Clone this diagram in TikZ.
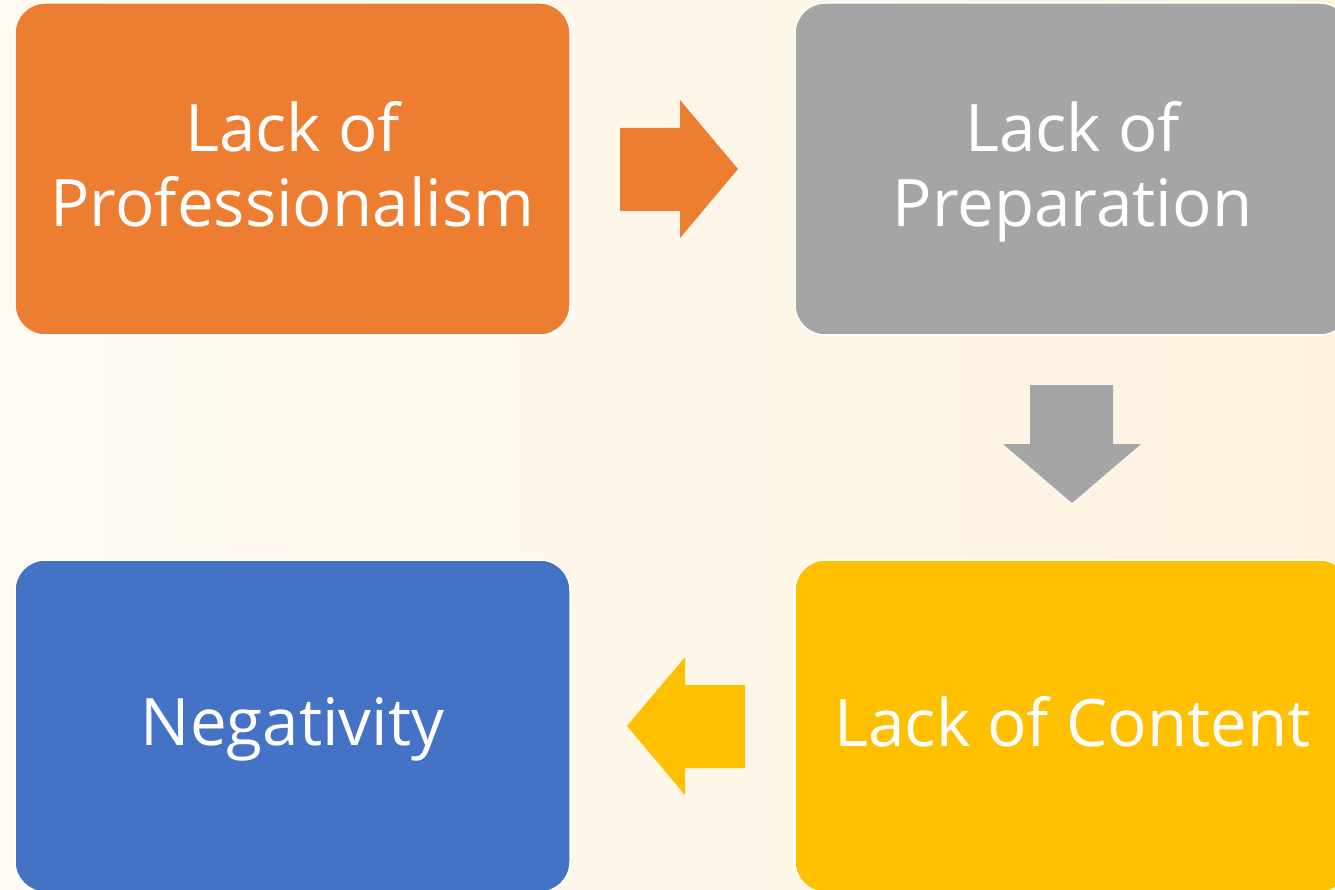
\documentclass[tikz,border=0pt]{standalone}
\usepackage{fontspec}
\setmainfont{Open Sans}
\definecolor{cOrange}{HTML}{ED7D31}
\definecolor{cGray}{HTML}{A5A5A5}
\definecolor{cYellow}{HTML}{FFC000}
\definecolor{cBlue}{HTML}{4472C4}
\definecolor{bgL}{HTML}{FFFBF3}
\definecolor{bgR}{HTML}{FEF2DF}
\newcommand{\cardstrut}{\rule[-15pt]{0pt}{70pt}}
\begin{document}
\begin{tikzpicture}[x=1pt,y=-1pt,
  card/.style={draw=white,line width=1.5pt,rounded corners=30pt,minimum width=555pt,minimum height=332pt,text=white,align=center,font=\fontsize{65.5}{75}\selectfont,inner sep=0pt}]
\shade[left color=bgL,right color=bgR] (0,0) rectangle (1335,890);
\useasboundingbox (0,0) rectangle (1335,890);
\node[card,fill=cOrange] (prof) at (292.5,169) {\cardstrut Lack of\\\cardstrut Professionalism};
\node[card,fill=cGray] (prep) at (1072.5,169) {\cardstrut Lack of\\\cardstrut Preparation};
\node[card,fill=cYellow] (cont) at (1072.5,726) {\cardstrut Lack of Content};
\node[card,fill=cBlue] (neg) at (292.5,726) {\cardstrut Negativity};
\fill[cOrange] (620,128) -- (680,128) -- (680,100) -- (738,169) -- (680,238) -- (680,211) -- (620,211) -- cycle;
\fill[cGray] (1030,385) -- (1113,385) -- (1113,444) -- (1141,444) -- (1072,503) -- (1003,444) -- (1030,444) -- cycle;
\fill[cYellow] (745,685) -- (685,685) -- (685,657) -- (627,726) -- (685,795) -- (685,768) -- (745,768) -- cycle;
\end{tikzpicture}
\end{document}
